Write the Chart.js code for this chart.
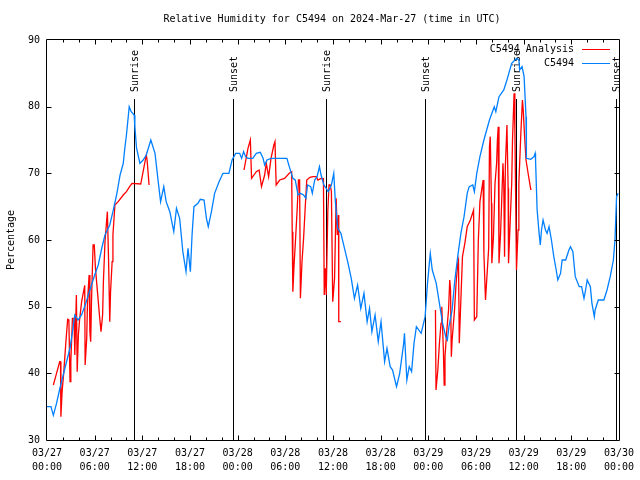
<!DOCTYPE html>
<html>
<head>
<meta charset="utf-8">
<script src="https://cdn.jsdelivr.net/npm/chart.js@4.4.1/dist/chart.umd.min.js"></script>
<style>
html,body{margin:0;padding:0;background:#fff;}
canvas{display:block;}
</style>
</head>
<body>
<canvas id="c" width="640" height="480"></canvas>
<script>
// ---- data (hours since 2024-03-27 00:00 UTC) ----
const chartTitle = 'Relative Humidity for C5494 on 2024-Mar-27 (time in UTC)';
const yAxisTitle = 'Percentage';
const seriesNames = ['C5494 Analysis', 'C5494'];

const blueHours = [0,0.5,0.8,1.2,1.63,2.26,2.9,3.3,3.5,3.9,4.36,4.8,5.2,5.6,6,6.45,6.9,7.3,7.9,8.3,8.76,9.2,9.6,9.8,10,10.35,10.6,10.97,11.06,11.27,11.7,12.1,12.5,13.07,13.6,14,14.3,14.7,15,15.46,15.96,16.3,16.7,17.1,17.5,17.75,18.05,18.26,18.5,19,19.3,19.77,20.07,20.3,20.7,21.1,21.66,22.15,22.9,23.3,23.75,24.25,24.5,24.75,25,25.3,25.9,26.35,26.85,27.2,27.4,27.7,28.2,28.86,29.5,30.2,30.5,30.95,31.25,31.6,31.9,32.3,32.6,32.8,33.2,33.4,33.7,34,34.3,34.5,34.85,35.15,35.4,35.8,36.1,36.3,36.6,37,37.45,37.85,38.3,38.7,39.1,39.5,39.9,40.3,40.6,40.9,41.3,41.7,42.05,42.5,42.8,43.2,43.5,44,44.4,44.9,45,45.3,45.6,45.9,46.2,46.5,47.1,47.3,47.6,47.9,48.25,48.5,49,49.4,49.8,50.2,50.4,50.6,51,51.3,51.7,52.1,52.5,52.9,53.15,53.6,53.8,54.1,54.5,55,55.7,56.3,56.5,56.9,57.5,57.9,58.2,58.5,58.9,59.15,59.4,59.5,59.8,60.06,60.3,60.35,60.9,61.3,61.45,61.5,61.7,61.95,62.1,62.25,62.45,62.75,62.95,63.2,63.5,63.8,64.1,64.3,64.65,64.85,65.3,65.7,65.9,66.2,66.5,67,67.3,67.6,67.8,68,68.4,68.6,68.9,69,69.4,70.1,70.5,70.9,71.3,71.5,71.7,71.9];
const blueValues = [35,35,33.7,35.5,37.8,40.8,43.8,47,48.75,48,48.8,50.2,51.75,53.25,54.75,56.25,58.8,60.75,62.25,64.25,66.75,69.75,71.5,73.8,75.75,80,79.25,78.75,77,73.8,71.5,72,72.75,75,73,68.75,65.75,68,65.75,64.25,61.25,64.75,63.25,58.25,55.25,58.75,55.25,60.75,65,65.5,66.1,66,63.25,62,64.25,67,68.75,70,70,72,73,73,72.25,73.25,72.5,72.25,72.25,73,73.15,72.25,71.25,72,72.25,72.25,72.25,72.25,71,69.25,69,66.75,67,66.75,66.25,68.25,68,67,69,69.5,71,69.75,68.25,67.75,67.25,68.25,70,65.75,61.75,61,58.75,56.75,54.25,51.25,53.25,49.75,52,47.75,49.75,46.25,48.75,44.75,47.75,41.75,43.75,41,40.5,38,40,44.5,46,39,41,40.25,44.5,47,46,47,48.5,53.5,58,55.5,53.5,50.5,47.5,45.5,45,47,49.5,53.5,57.5,61,63.5,67,68,68.25,67.25,70,72.5,75,78,80,79.25,81.5,82.5,84,85.25,86.5,87,87.25,87,85.5,86,84.5,78.5,72.25,72.1,72.5,73,72,64.5,61,59.25,61.5,63,61.5,61,62,60,57.5,55.5,54,55,57,57,58.5,59,58.25,54.5,53,53,51.25,52.5,54,53,50.5,48.5,49.5,51,51,52.5,54.5,57,60,66.5,67];

const redHours = [0.8,1.2,1.6,1.7,1.75,1.9,2.1,2.35,2.6,2.75,2.9,3,3.2,3.4,3.5,3.7,3.8,3.95,4.1,4.36,4.6,4.75,4.8,5,5.1,5.3,5.4,5.5,5.6,5.8,5.95,6.1,6.35,6.6,6.8,7,7.1,7.3,7.5,7.6,7.75,7.9,8,8.2,8.3,8.55,8.96,9.6,10,10.4,10.7,11.8,12.1,12.5,12.6,12.85,
  18,
  24.8,25.3,25.6,25.75,26.35,26.7,27,27.4,27.6,27.9,28.2,28.56,28.7,28.85,29.3,29.9,30.5,30.8,30.87,30.95,31.1,31.25,31.5,31.66,31.8,31.9,32.1,32.3,32.5,32.7,33.1,33.5,33.9,34.1,34.5,34.8,34.9,35.05,35.15,35.35,35.5,35.65,35.8,35.97,36.2,36.4,36.55,36.7,36.73,37,
  42,
  48.9,48.97,49.2,49.4,49.6,49.7,49.9,50,50.1,50.3,50.55,50.7,50.8,50.9,51,51.3,51.5,51.7,51.8,51.9,52.1,52.3,52.6,52.9,53.3,53.7,53.8,54.1,54.3,54.5,54.9,55,55.2,55.6,55.7,55.8,55.95,56,56.2,56.4,56.6,56.7,56.8,56.9,57.1,57.4,57.5,57.6,57.7,57.9,58.05,58.1,58.3,58.5,58.6,58.8,58.9,59,59.1,59.3,59.4,59.65,59.85,59.95,60.1,60.3,60.5,60.7,60.9,61];
const redValues = [38.25,40,41.75,41.75,33.5,37.25,40,44.25,48.1,48,38.75,41.75,48.25,48.25,42.75,51.75,40.25,45.75,48,50.75,52.25,53.2,41.25,45.25,50.75,54.75,46.25,44.75,50.75,59.25,59.25,55.75,52.25,48.75,46.25,48.75,53.75,59.75,62.75,64.25,57,47.75,52.25,56.75,60.75,65.25,65.75,66.75,67.25,68,68.5,68.4,70.25,72.75,72,68.25,
  null,
  70.5,73.75,75,69.25,70.25,70.5,68,69.75,71.5,69.5,72.25,74.25,74.75,68.25,69,69.25,70,70.25,61.25,52.25,56.25,59.25,64.75,69,69,51.25,56.75,60.25,64.75,69,69.4,69.5,69.5,69,69.25,69.2,51.75,55.75,51.75,64.25,68.25,68.25,67.25,50.75,54.25,66.25,60.75,63.75,47.75,47.75,
  null,
  49.5,37.5,40.5,44.5,47.5,50,43.5,38.25,42.5,46,49.5,54,52.5,42.5,45,49.5,53.5,56.5,57,44.5,51,57.5,59.5,62,63,64.5,48,48.5,60,65.75,69,58,51,58.75,74,75.5,65.5,56.5,60.5,68.5,71.5,75,77,56.5,61,71.5,68.5,57.5,71,77.25,67.75,56.5,62.5,68.5,75,82,76.5,66,55.5,61.5,68.5,76,81,79.5,76,72,70.5,69,67.6,67.6];

const sunHours = [10.97, 23.41, 35.1, 47.59, 59.06, 71.62];
const sunLabels = ['Sunrise', 'Sunset', 'Sunrise', 'Sunset', 'Sunrise', 'Sunset'];
const sunLineTopValue = 81.1;

const xTickLabels = [
  ['03/27','00:00'],['03/27','06:00'],['03/27','12:00'],['03/27','18:00'],
  ['03/28','00:00'],['03/28','06:00'],['03/28','12:00'],['03/28','18:00'],
  ['03/29','00:00'],['03/29','06:00'],['03/29','12:00'],['03/29','18:00'],
  ['03/30','00:00']
];

// ---- styles ----
const FONT = 'DejaVu Sans Mono';
const RED = '#ff0000';
const BLUE = '#0080ff';

const toPoints = (xs, ys) => xs.map((x, i) => ({x: x, y: ys[i]}));

const framePlugin = {
  id: 'frame',
  beforeDatasetsDraw(chart) {
    const ctx = chart.ctx, xs = chart.scales.x, ys = chart.scales.y;
    const yTop = Math.round(ys.getPixelForValue(sunLineTopValue));
    const yBot = Math.round(ys.getPixelForValue(30));
    ctx.save();
    ctx.strokeStyle = '#000';
    ctx.lineWidth = 1;
    ctx.fillStyle = '#000';
    ctx.font = '10px "' + FONT + '"';
    sunHours.forEach((h, i) => {
      const px = Math.round(xs.getPixelForValue(h)) + 0.5;
      ctx.beginPath();
      ctx.moveTo(px, yTop);
      ctx.lineTo(px, yBot);
      ctx.stroke();
      ctx.save();
      ctx.translate(px + 1, yTop - 7);
      ctx.rotate(-Math.PI / 2);
      ctx.textAlign = 'left';
      ctx.textBaseline = 'middle';
      ctx.fillText(sunLabels[i], 0, 0);
      ctx.restore();
    });
    ctx.restore();
  },
  afterDatasetsDraw(chart) {
    const ctx = chart.ctx, a = chart.chartArea, xs = chart.scales.x, ys = chart.scales.y;
    const L = Math.round(a.left) - 0.5, R = Math.round(a.right) + 0.5;
    const T = Math.round(a.top) - 0.5, B = Math.round(a.bottom) + 0.5;
    ctx.save();
    ctx.strokeStyle = '#000';
    ctx.lineWidth = 1;
    ctx.beginPath();
    ctx.rect(L, T, R - L, B - T);
    // x ticks (every 2 h, major every 6 h)
    for (let h = 2; h < 72; h += 2) {
      const px = Math.round(xs.getPixelForValue(h)) + 0.5;
      const len = (h % 6 === 0) ? 5 : 3;
      ctx.moveTo(px, B); ctx.lineTo(px, B - len);
      ctx.moveTo(px, T); ctx.lineTo(px, T + len);
    }
    for (let v = 40; v < 90; v += 10) {
      const py = Math.round(ys.getPixelForValue(v)) + 0.5;
      ctx.moveTo(L, py); ctx.lineTo(L + 5, py);
      ctx.moveTo(R, py); ctx.lineTo(R - 5, py);
    }
    ctx.stroke();
    // title
    ctx.fillStyle = '#000';
    ctx.font = '10px "' + FONT + '"';
    ctx.textAlign = 'center';
    ctx.textBaseline = 'middle';
    ctx.fillText(chartTitle, 332, 19);
    // legend
    const colors = [RED, BLUE];
    seriesNames.forEach((name, i) => {
      const y = 49 + i * 14;
      ctx.textAlign = 'right';
      ctx.fillStyle = '#000';
      ctx.fillText(name, 574, y);
      ctx.strokeStyle = colors[i];
      ctx.beginPath();
      ctx.moveTo(582, y + 0.5);
      ctx.lineTo(610, y + 0.5);
      ctx.stroke();
    });
    ctx.restore();
  }
};

Chart.defaults.font.family = FONT;
Chart.defaults.font.size = 10;
Chart.defaults.color = '#000';

new Chart(document.getElementById('c'), {
  type: 'line',
  data: {
    datasets: [
      {label: seriesNames[0], data: toPoints(redHours, redValues), borderColor: RED, borderWidth: 1.3, pointRadius: 0, tension: 0, spanGaps: false, order: 1},
      {label: seriesNames[1], data: toPoints(blueHours, blueValues), borderColor: BLUE, borderWidth: 1.3, pointRadius: 0, tension: 0, order: 0}
    ]
  },
  options: {
    responsive: false,
    animation: false,
    devicePixelRatio: 1,
    layout: {padding: {top: 40, right: 19, left: 0, bottom: 0}},
    plugins: {legend: {display: false}, title: {display: false}, tooltip: {enabled: false}},
    scales: {
      x: {
        type: 'linear', min: 0, max: 72,
        grid: {display: false, drawTicks: false},
        border: {display: false},
        ticks: {
          stepSize: 6, autoSkip: false, maxRotation: 0, minRotation: 0, padding: 6,
          color: '#000', font: {family: FONT, size: 10, lineHeight: 1.4},
          callback: (v, i) => xTickLabels[Math.round(v / 6)]
        },
        afterFit: (s) => { s.height = 40; }
      },
      y: {
        min: 30, max: 90,
        grid: {display: false, drawTicks: false},
        border: {display: false},
        ticks: {stepSize: 10, padding: 7, color: '#000', font: {family: FONT, size: 10}},
        title: {display: true, text: yAxisTitle, color: '#000', font: {family: FONT, size: 10}, padding: {top: 5, bottom: 0}},
        afterFit: (s) => { s.width = 47; }
      }
    }
  },
  plugins: [framePlugin]
});
</script>
</body>
</html>
